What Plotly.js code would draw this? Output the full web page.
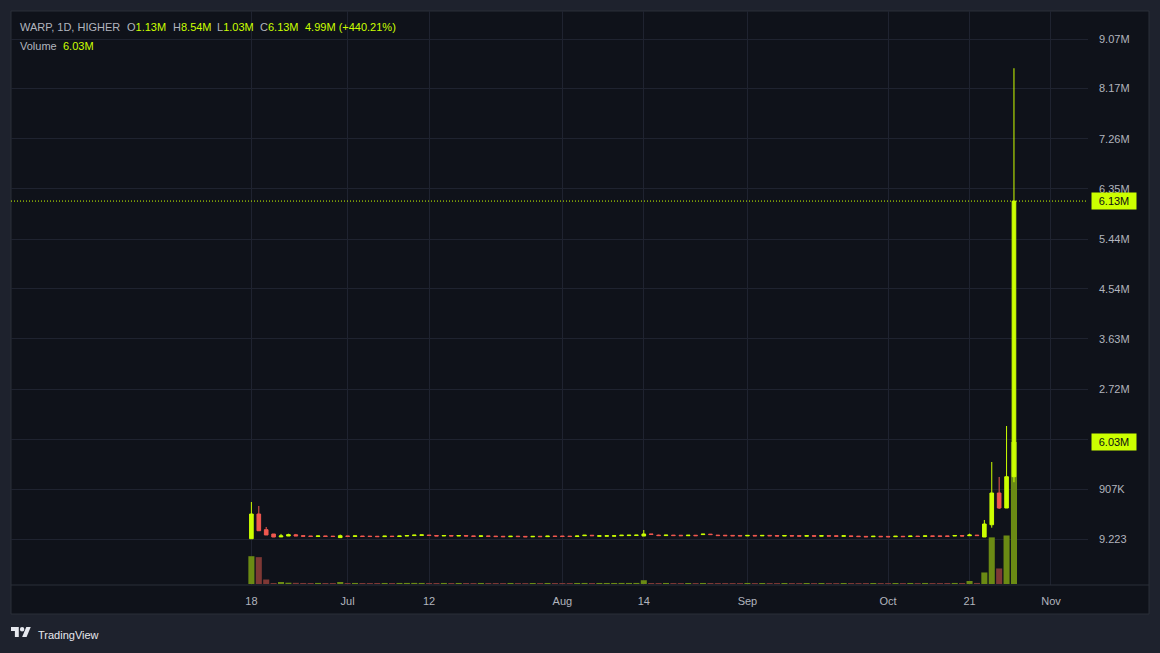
<!DOCTYPE html>
<html><head><meta charset="utf-8">
<script src="https://cdn.plot.ly/plotly-3.0.1.min.js"></script>
<style>html,body{margin:0;padding:0;background:#1e222d;overflow:hidden}#chart{width:1160px;height:653px}</style>
</head><body><div id="chart"></div>
<script>
// ---------- DATA (prices & volumes in thousands) ----------
const dates = [
'2024-06-18','2024-06-19','2024-06-20','2024-06-21','2024-06-22','2024-06-23','2024-06-24','2024-06-25','2024-06-26','2024-06-27',
'2024-06-28','2024-06-29','2024-06-30','2024-07-01','2024-07-02','2024-07-03','2024-07-04','2024-07-05','2024-07-06','2024-07-07',
'2024-07-08','2024-07-09','2024-07-10','2024-07-11','2024-07-12','2024-07-13','2024-07-14','2024-07-15','2024-07-16','2024-07-17',
'2024-07-18','2024-07-19','2024-07-21','2024-07-22','2024-07-23','2024-07-24','2024-07-25','2024-07-26','2024-07-28','2024-07-29',
'2024-07-30','2024-07-31','2024-08-01','2024-08-02','2024-08-03','2024-08-05','2024-08-06','2024-08-07','2024-08-08','2024-08-09',
'2024-08-11','2024-08-12','2024-08-13','2024-08-14','2024-08-15','2024-08-16','2024-08-19','2024-08-20','2024-08-21','2024-08-22',
'2024-08-23','2024-08-26','2024-08-27','2024-08-28','2024-08-29','2024-08-30','2024-08-31','2024-09-01','2024-09-02','2024-09-04',
'2024-09-05','2024-09-06','2024-09-09','2024-09-11','2024-09-12','2024-09-13','2024-09-16','2024-09-18','2024-09-19','2024-09-20',
'2024-09-23','2024-09-24','2024-09-25','2024-09-26','2024-09-27','2024-09-30','2024-10-01','2024-10-02','2024-10-04','2024-10-07',
'2024-10-09','2024-10-10','2024-10-11','2024-10-14','2024-10-16','2024-10-17','2024-10-18','2024-10-21','2024-10-22','2024-10-23',
'2024-10-24','2024-10-25','2024-10-26','2024-10-27'];
const openK = [
5,453,169,91,38,54,76,60,55,46, 55,52,25,55,47,54,52,50,43,52, 45,54,62,66,72,63,55,63,55,62,
56,48,56,52,50,42,52,48,40,50, 43,54,54,52,45,60,68,50,52,52, 60,62,63,54,92,70,62,70,68,60,
68,80,88,70,68,66,64,56,65,57, 66,62,54,62,60,52,60,52,60,58, 50,56,52,48,42,50,48,42,50,45,
53,48,56,56,56,55,62,60,70,36, 259,834,562,1130];
const highK = [
671,599,218,91,92,96,92,60,55,55, 55,52,80,55,56,54,52,50,52,52, 54,62,70,74,72,63,63,63,62,62,
56,56,56,52,50,50,52,48,48,50, 52,54,54,52,54,68,68,58,58,58, 68,69,70,163,92,78,70,70,68,68,
68,88,88,70,68,66,64,65,65,65, 66,62,62,62,60,60,60,60,60,58, 58,56,52,48,50,50,48,50,50,53,
53,56,56,56,56,62,62,96,70,345, 1397,1125,2050,8540];
const lowK = [
3,150,73,36,36,54,54,50,46,46, 47,45,25,47,47,46,45,43,43,45, 45,54,62,66,63,55,55,55,55,54,
48,48,48,44,42,42,44,40,40,43, 43,46,46,45,45,60,60,50,52,52, 60,62,63,54,82,62,62,62,60,60,
60,80,80,62,60,58,56,56,57,57, 58,54,54,55,52,52,52,52,53,50, 50,48,44,40,42,42,40,42,43,45,
46,48,49,48,48,55,54,58,62,36, 205,544,562,1030];
const closeK = [
453,150,73,36,56,78,56,50,46,55, 47,45,60,47,56,46,45,43,52,45, 54,62,70,74,63,55,63,55,62,54,
48,56,48,44,42,50,44,40,48,43, 52,46,46,45,54,68,60,58,58,58, 68,69,70,91,82,62,70,62,60,68,
60,88,80,62,60,58,56,65,57,65, 58,54,62,55,52,60,52,60,53,50, 58,48,44,40,50,42,40,50,43,53,
46,56,49,48,48,62,54,72,62,272, 834,562,1130,6130];
const volumeK = [
1180,1140,191,40,85,55,50,44,42,46, 42,41,85,43,45,42,41,42,44,42, 45,46,47,45,42,42,45,42,44,42,
41,44,42,41,41,44,41,40,43,41, 44,42,42,41,44,45,42,44,44,44, 46,45,46,160,43,42,44,41,41,43,
41,44,42,41,41,41,40,44,41,43, 41,40,43,41,40,43,41,43,41,40, 43,41,40,41,43,41,40,43,41,44,
41,44,41,41,42,45,42,128,45,490, 1980,660,2060,6030];

const xTickDates = ['2024-06-18','2024-07-01','2024-07-12','2024-08-01','2024-08-14','2024-09-01','2024-10-01','2024-10-21','2024-11-01'];
const xTickText  = ['18','Jul','12','Aug','14','Sep','Oct','21','Nov'];
const priceTickValsK = [0.009223, 907, 1810, 2720, 3630, 4540, 5440, 6350, 7260, 8170, 9070];
// the 1.81M label is hidden behind the volume marker in the reference, so it is left blank
const priceTickText  = ['9.223','907K','','2.72M','3.63M','4.54M','5.44M','6.35M','7.26M','8.17M','9.07M'];
const symbolTitle = 'WARP, 1D, HIGHER';
const ohlcLabels = ['O','H','L','C'];
const ohlcText = ['1.13M','8.54M','1.03M','6.13M'];
const changeText = '4.99M (+440.21%)';
const lastPriceText = '6.13M';
const lastVolumeText = '6.03M';

// ---------- STYLE ----------
const LIME = '#ccff00', RED = '#f0584f';
const VOL_UP = '#6b8a14', VOL_DN = '#7e3835';
const GRID = '#1f2330', TXT = '#b2b5be';
const FONT = 'Liberation Sans, Arial, sans-serif';
const L = 11, R = 1088, T = 11, B = 585;
const px = x => (x - L) / (R - L);
const py = y => (B - y) / (B - T);

const idx = dates.map((d, i) => i);
const lastIdx = dates.length - 1;
const dayMs = 86400000;
const tickIdx = xTickDates.map(d => {
  const k = dates.indexOf(d);
  if (k >= 0) return k;
  return lastIdx + Math.round((new Date(d) - new Date(dates[lastIdx])) / dayMs);
});
const volColors = closeK.map((c, i) => c >= openK[i] ? VOL_UP : VOL_DN);

const traces = [
  {type: 'bar', x: idx, y: volumeK, xaxis: 'x', yaxis: 'y',
   marker: {color: volColors, line: {width: 0}}, hoverinfo: 'skip', showlegend: false},
  {type: 'candlestick', x: idx, open: openK, high: highK, low: lowK, close: closeK,
   xaxis: 'x', yaxis: 'y2', hoverinfo: 'skip', showlegend: false, whiskerwidth: 0,
   increasing: {line: {color: LIME, width: 1}, fillcolor: LIME},
   decreasing: {line: {color: RED, width: 1}, fillcolor: RED}}
];

function hdr(x, y, html) {
  return {xref: 'paper', yref: 'paper', x: px(x), y: py(y), xanchor: 'left', yanchor: 'middle',
          text: html, showarrow: false, borderpad: 0, font: {family: FONT, size: 11, color: TXT}};
}
const lime = s => '<span style="color:' + LIME + '">' + s + '</span>';
const annotations = [
  hdr(19, 27, symbolTitle),
  hdr(126, 27, ohlcLabels[0] + lime(ohlcText[0])),
  hdr(171.5, 27, ohlcLabels[1] + lime(ohlcText[1])),
  hdr(216, 27, ohlcLabels[2] + lime(ohlcText[2])),
  hdr(258.5, 27, ohlcLabels[3] + lime(ohlcText[3])),
  hdr(303.5, 27, lime(changeText)),
  hdr(19, 46, 'Volume'),
  hdr(62, 46, lime(lastVolumeText)),
  {xref: 'paper', yref: 'y2', x: px(1091), y: closeK[lastIdx], xanchor: 'left', yanchor: 'middle',
   text: lastPriceText, showarrow: false, bgcolor: LIME, width: 42, height: 14, borderpad: 1,
   font: {family: FONT, size: 11, color: '#0b0e14'}},
  {xref: 'paper', yref: 'y', x: px(1091), y: volumeK[lastIdx], xanchor: 'left', yanchor: 'middle',
   text: lastVolumeText, showarrow: false, bgcolor: LIME, width: 42, height: 14, borderpad: 1,
   font: {family: FONT, size: 11, color: '#0b0e14'}},
  {xref: 'paper', yref: 'paper', x: px(37), y: py(635), xanchor: 'left', yanchor: 'middle',
   text: 'TradingView', showarrow: false, borderpad: 0, font: {family: FONT, size: 11, color: '#e6e8ee'}}
];

// TradingView logo (36x28 viewbox) scaled
const s = 0.556, ox = 11, oy = 624.8;
const P = (vx, vy) => px(ox + vx * s) + ',' + py(oy + vy * s);
const logoT = 'M' + P(14,22) + ' L' + P(7,22) + ' L' + P(7,11) + ' L' + P(0,11) + ' L' + P(0,4) + ' L' + P(14,4) + ' Z';
const logoV = 'M' + P(28,22) + ' L' + P(20,22) + ' L' + P(27.5,4) + ' L' + P(35.5,4) + ' Z';

const shapes = [
  {type: 'rect', xref: 'paper', yref: 'paper', x0: px(11), x1: px(1149), y0: py(614), y1: py(11),
   fillcolor: '#0f121a', line: {color: '#2a2e39', width: 1}, layer: 'below'},
  {type: 'line', xref: 'paper', yref: 'paper', x0: px(11), x1: px(1149), y0: py(585), y1: py(585),
   line: {color: '#2a2e39', width: 1}},
  {type: 'line', xref: 'paper', yref: 'y2', x0: 0, x1: 1, y0: closeK[lastIdx], y1: closeK[lastIdx],
   line: {color: LIME, width: 1, dash: '1px,2px'}},
  {type: 'path', xref: 'paper', yref: 'paper', path: logoT, fillcolor: '#e6e8ee', line: {width: 0}},
  {type: 'path', xref: 'paper', yref: 'paper', path: logoV, fillcolor: '#e6e8ee', line: {width: 0}},
  {type: 'circle', xref: 'paper', yref: 'paper', x0: px(ox + 16 * s), x1: px(ox + 24 * s),
   y0: py(oy + 12 * s), y1: py(oy + 4 * s), fillcolor: '#e6e8ee', line: {width: 0}}
];

const layout = {
  width: 1160, height: 653,
  margin: {l: L, r: 1160 - R, t: T, b: 653 - B, pad: 0},
  paper_bgcolor: '#1e222d', plot_bgcolor: '#0f121a',
  showlegend: false, bargap: 0.18, dragmode: false,
  font: {family: FONT, size: 11, color: TXT},
  xaxis: {range: [-32.47, 113.0], tickmode: 'array', tickvals: tickIdx, ticktext: xTickText,
          showgrid: true, gridcolor: GRID, gridwidth: 1, zeroline: false, showline: false,
          ticks: '', ticklabelstandoff: 8, tickfont: {family: FONT, size: 11, color: TXT},
          rangeslider: {visible: false}, fixedrange: true},
  yaxis: {range: [-42.5, 24330], showgrid: false, zeroline: false, showticklabels: false,
          ticks: '', fixedrange: true},
  yaxis2: {overlaying: 'y', side: 'right', range: [-834.4, 9577.9], tickmode: 'array',
           tickvals: priceTickValsK, ticktext: priceTickText, showgrid: true, gridcolor: GRID,
           gridwidth: 1, zeroline: false, showline: false, ticks: '', ticklabelstandoff: 10,
           tickfont: {family: FONT, size: 11, color: TXT}, fixedrange: true},
  annotations: annotations, shapes: shapes
};

Plotly.newPlot('chart', traces, layout, {displayModeBar: false, staticPlot: true});
</script></body></html>
